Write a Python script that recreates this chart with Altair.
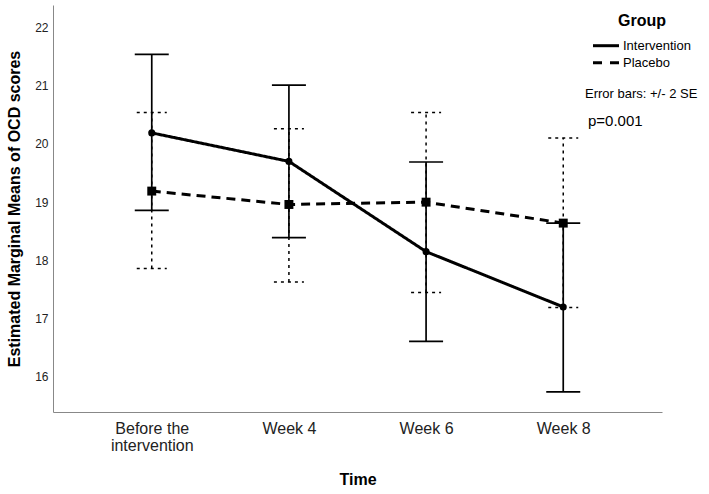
import altair as alt
import pandas as pd

times = ["Before the intervention", "Week 4", "Week 6", "Week 8"]
groups = ["Intervention", "Placebo"]

int_mean = [20.19, 19.70, 18.15, 17.20]
int_lower = [18.86, 18.39, 16.61, 15.74]
int_upper = [21.54, 21.01, 19.69, 18.64]

pl_mean = [19.19, 18.96, 19.00, 18.64]
pl_lower = [17.86, 17.63, 17.45, 17.19]
pl_upper = [20.54, 20.26, 20.54, 20.10]

y_ticks = [16, 17, 18, 19, 20, 21, 22]
legend_title = ["Group"]
note_se = ["Error bars: +/- 2 SE"]
note_p = ["p=0.001"]

rows = []
for g, ms, los, ups in [("Intervention", int_mean, int_lower, int_upper),
                        ("Placebo", pl_mean, pl_lower, pl_upper)]:
    for t, m, lo, up in zip(times, ms, los, ups):
        rows.append({"group": g, "time": t, "mean": m, "lower": lo, "upper": up})
df = pd.DataFrame(rows)

FONT = "Liberation Sans"

x_enc = alt.X(
    "time:N", sort=times,
    scale=alt.Scale(type="point", padding=0.72),
    axis=alt.Axis(
        title="Time",
        labelExpr="datum.value == 'Before the intervention' ? ['Before the', 'intervention'] : datum.value",
        labelAngle=0, labelFontSize=16, labelLineHeight=17, labelPadding=8,
        labelColor="#222", titleFontSize=16, titleFontWeight="bold",
        titlePadding=18, ticks=False, domainColor="#888", grid=False,
    ),
)
y_scale = alt.Scale(domain=[15.395, 22.387], nice=False, zero=False)
y_axis = alt.Axis(
    title="Estimated Marginal Means of OCD scores", values=y_ticks,
    labelFontSize=12, labelPadding=5, labelColor="#222",
    titleFontSize=16, titleFontWeight="bold", titlePadding=12,
    ticks=False, domainColor="#888", grid=False,
)

base = alt.Chart(df)
int_base = base.transform_filter(alt.datum.group == "Intervention")
pl_base = base.transform_filter(alt.datum.group == "Placebo")

def bars(src, dash, half, sw):
    vert = src.mark_rule(color="black", strokeWidth=sw, strokeDash=dash).encode(
        x=x_enc, y=alt.Y("lower:Q", scale=y_scale, axis=y_axis), y2="upper:Q")
    caps = src.transform_fold(["lower", "upper"], as_=["end", "val"]).mark_rule(
        color="black", strokeWidth=sw, strokeDash=dash, xOffset=-half, x2Offset=half
    ).encode(x=x_enc, x2=alt.X2("time:N"), y=alt.Y("val:Q", scale=y_scale, axis=y_axis))
    return vert + caps

pl_bars = bars(pl_base, [3, 4], 15, 1.5)
int_bars = bars(int_base, [1, 0], 17, 1.7)

dash_scale = alt.Scale(domain=groups, range=[[1, 0], [9, 6]])

lines = base.mark_line(color="black", strokeWidth=3).encode(
    x=x_enc,
    y=alt.Y("mean:Q", scale=y_scale, axis=y_axis),
    strokeDash=alt.StrokeDash("group:N", scale=dash_scale, legend=None),
)

int_pts = int_base.mark_point(shape="circle", filled=True, size=50, color="black", opacity=1).encode(
    x=x_enc, y=alt.Y("mean:Q", scale=y_scale, axis=y_axis))
pl_pts = pl_base.mark_point(shape="square", filled=True, size=80, color="black", opacity=1).encode(
    x=x_enc, y=alt.Y("mean:Q", scale=y_scale, axis=y_axis))

# --- legend (drawn as annotation) ---
leg_title = alt.Chart(pd.DataFrame({"t": legend_title})).mark_text(
    align="center", baseline="middle", fontSize=16, fontWeight="bold", color="black").encode(
    x=alt.value(589), y=alt.value(16), text="t:N")
leg_sym_int = alt.Chart(pd.DataFrame({"g": groups[:1]})).mark_rule(
    color="black", strokeWidth=3).encode(
    x=alt.value(540), x2=alt.value(566), y=alt.value(40.7))
leg_sym_pl = alt.Chart(pd.DataFrame({"g": groups[1:]})).mark_rule(
    color="black", strokeWidth=3, strokeDash=[9, 8]).encode(
    x=alt.value(540), x2=alt.value(566), y=alt.value(57.7))
leg_lab_int = alt.Chart(pd.DataFrame({"g": groups[:1]})).mark_text(
    align="left", baseline="middle", fontSize=13, color="black").encode(
    x=alt.value(570), y=alt.value(40.7), text="g:N")
leg_lab_pl = alt.Chart(pd.DataFrame({"g": groups[1:]})).mark_text(
    align="left", baseline="middle", fontSize=13, color="black").encode(
    x=alt.value(570), y=alt.value(57.7), text="g:N")

se_text = alt.Chart(pd.DataFrame({"note": note_se})).mark_text(
    align="left", baseline="middle", fontSize=13, color="black").encode(
    x=alt.value(532), y=alt.value(89), text="note:N")
p_text = alt.Chart(pd.DataFrame({"note": note_p})).mark_text(
    align="left", baseline="middle", fontSize=15, color="black").encode(
    x=alt.value(535), y=alt.value(116), text="note:N")

chart = alt.layer(
    pl_bars, int_bars, lines, int_pts, pl_pts,
    leg_title, leg_sym_int, leg_sym_pl, leg_lab_int, leg_lab_pl,
    se_text, p_text,
).properties(
    width=609, height=407,
    autosize=alt.AutoSizeParams(type="none"),
    padding={"left": 53, "top": 5, "right": 47, "bottom": 82},
).configure(font=FONT).configure_view(stroke=None)

chart.save("out.html", embed_options={"renderer": "svg", "actions": False})
